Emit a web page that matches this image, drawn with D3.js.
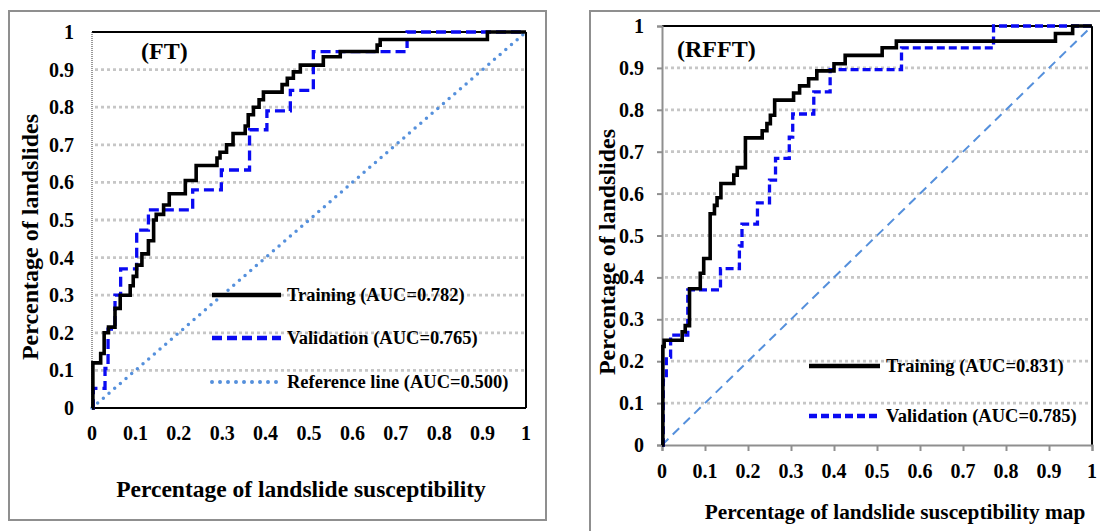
<!DOCTYPE html>
<html>
<head>
<meta charset="utf-8">
<script src="https://cdn.jsdelivr.net/npm/d3@7"></script>
<style>
  body { margin: 0; background: #fff; }
  text { font-family: "Liberation Serif", "Times New Roman", serif; font-weight: bold; fill: #000; }
</style>
</head>
<body>
<div id="chart"></div>
<script>
// ROC staircase points: [false positive rate, true positive rate]
const ftTraining = [
  [0, 0], [0.002, 0.12], [0.02, 0.145], [0.028, 0.2], [0.038, 0.215], [0.053, 0.265],
  [0.065, 0.3], [0.088, 0.325], [0.095, 0.35], [0.103, 0.38], [0.115, 0.41], [0.13, 0.445],
  [0.142, 0.5], [0.148, 0.515], [0.165, 0.54], [0.178, 0.57], [0.215, 0.605], [0.24, 0.645],
  [0.288, 0.665], [0.295, 0.68], [0.31, 0.7], [0.325, 0.73], [0.353, 0.75], [0.36, 0.78],
  [0.372, 0.8], [0.385, 0.82], [0.395, 0.84], [0.438, 0.86], [0.45, 0.877], [0.464, 0.894],
  [0.48, 0.912], [0.533, 0.934], [0.572, 0.948], [0.657, 0.965], [0.664, 0.98], [0.911, 1], [1, 1]
];
const ftValidation = [
  [0, 0], [0.003, 0.052], [0.03, 0.105], [0.037, 0.21], [0.053, 0.3], [0.066, 0.37],
  [0.103, 0.473], [0.13, 0.527], [0.232, 0.58], [0.298, 0.633], [0.363, 0.74], [0.403, 0.79],
  [0.457, 0.845], [0.51, 0.948], [0.726, 1], [1, 1]
];
const rfftTraining = [
  [0, 0], [0.002, 0.235], [0.005, 0.25], [0.047, 0.27], [0.054, 0.285], [0.064, 0.373],
  [0.089, 0.41], [0.097, 0.445], [0.112, 0.552], [0.122, 0.572], [0.128, 0.59], [0.137, 0.624],
  [0.167, 0.644], [0.175, 0.662], [0.194, 0.733], [0.233, 0.75], [0.244, 0.767], [0.252, 0.787],
  [0.262, 0.823], [0.306, 0.84], [0.32, 0.857], [0.341, 0.874], [0.36, 0.893], [0.4, 0.91],
  [0.426, 0.93], [0.512, 0.948], [0.545, 0.964], [0.915, 0.982], [0.955, 1], [1, 1]
];
const rfftValidation = [
  [0, 0], [0.003, 0.155], [0.01, 0.21], [0.02, 0.262], [0.06, 0.37], [0.136, 0.421],
  [0.18, 0.475], [0.186, 0.527], [0.222, 0.578], [0.25, 0.632], [0.264, 0.684], [0.296, 0.735],
  [0.304, 0.79], [0.353, 0.843], [0.391, 0.896], [0.557, 0.948], [0.771, 1], [1, 1]
];
const referenceLine = [[0, 0], [1, 1]];

const tickValues = [0, 0.1, 0.2, 0.3, 0.4, 0.5, 0.6, 0.7, 0.8, 0.9, 1];
const ftLegend = ["Training (AUC=0.782)", "Validation (AUC=0.765)", "Reference line (AUC=0.500)"];
const rfftLegend = ["Training (AUC=0.831)", "Validation (AUC=0.785)"];

const BLUE = "#0a0af2";
const REF_BLUE = "#5590dc";
const GRID = "#c6c6c6";
const fmt = d => (d === 0 || d === 1) ? String(d) : d3.format(".1f")(d);

const svg = d3.select("#chart").append("svg")
  .attr("width", 1100)
  .attr("height", 531);

svg.append("rect").attr("width", 1100).attr("height", 531).attr("fill", "#fff");

// panel frames
svg.append("rect")
  .attr("x", 9).attr("y", 11).attr("width", 537).attr("height", 509)
  .attr("fill", "none").attr("stroke", "#8f8f8f").attr("stroke-width", 2);
svg.append("rect")
  .attr("x", 590).attr("y", 11).attr("width", 560).attr("height", 560)
  .attr("fill", "none").attr("stroke", "#8f8f8f").attr("stroke-width", 2);

function drawPanel(p) {
  const x = d3.scaleLinear().domain([0, 1]).range([p.left, p.right]);
  const y = d3.scaleLinear().domain([0, 1]).range([p.bottom, p.top]);
  const g = svg.append("g");

  // dotted gridlines
  g.selectAll(".grid")
    .data(tickValues.filter(d => d > 0 && d < 1))
    .enter().append("line")
    .attr("x1", x(0) + 3).attr("x2", x(1) - 2)
    .attr("y1", d => y(d)).attr("y2", d => y(d))
    .attr("stroke", GRID).attr("stroke-width", 2.8)
    .attr("stroke-dasharray", "3,3");

  // plot frame
  g.append("line").attr("x1", x(0)).attr("x2", x(1)).attr("y1", y(1)).attr("y2", y(1))
    .attr("stroke", "#000").attr("stroke-width", 2);
  g.append("line").attr("x1", x(1)).attr("x2", x(1)).attr("y1", y(1)).attr("y2", y(0))
    .attr("stroke", "#000").attr("stroke-width", 2);

  if (p.grayAxes) {
    const xAxis = d3.axisBottom(x).tickValues(tickValues).tickSize(6).tickFormat("");
    const yAxis = d3.axisLeft(y).tickValues(tickValues).tickSize(5).tickFormat("");
    g.append("g").attr("transform", `translate(0,${y(0)})`).call(xAxis)
      .call(a => a.selectAll("line,path").attr("stroke", "#8f8f8f").attr("stroke-width", 2));
    g.append("g").attr("transform", `translate(${x(0)},0)`).call(yAxis)
      .call(a => a.selectAll("line,path").attr("stroke", "#8f8f8f").attr("stroke-width", 2));
  } else {
    g.append("line").attr("x1", x(0)).attr("x2", x(1)).attr("y1", y(0)).attr("y2", y(0))
      .attr("stroke", "#000").attr("stroke-width", 2);
    g.append("line").attr("x1", x(0)).attr("x2", x(0)).attr("y1", y(1)).attr("y2", y(0))
      .attr("stroke", "#333").attr("stroke-width", 1).attr("stroke-dasharray", "1,1");
  }

  // tick labels
  g.selectAll(".ylab").data(tickValues).enter().append("text")
    .attr("x", p.yLabelX).attr("y", d => y(d))
    .attr("dy", "0.35em").attr("text-anchor", "end")
    .style("font-size", "20px").text(fmt);
  g.selectAll(".xlab").data(tickValues).enter().append("text")
    .attr("x", d => x(d)).attr("y", p.xLabelY)
    .attr("dy", "0.35em").attr("text-anchor", "middle")
    .style("font-size", "20px").text(fmt);

  // reference diagonal
  const line = d3.line().x(d => x(d[0])).y(d => y(d[1]));
  g.append("path").datum(referenceLine).attr("d", line)
    .attr("fill", "none").attr("stroke", REF_BLUE)
    .attr("stroke-width", p.refWidth).attr("stroke-dasharray", p.refDash)
    .attr("stroke-linecap", p.refCap);

  // ROC curves
  const step = d3.line().x(d => x(d[0])).y(d => y(d[1])).curve(d3.curveStepAfter);
  g.append("path").datum(p.validation).attr("d", step)
    .attr("fill", "none").attr("stroke", BLUE).attr("stroke-width", 3.3)
    .attr("stroke-dasharray", p.valDash);
  g.append("path").datum(p.training).attr("d", step)
    .attr("fill", "none").attr("stroke", "#000").attr("stroke-width", 3.6);

  // legend
  const styles = [
    { stroke: "#000", width: 4.5, dash: null, cap: "butt" },
    { stroke: BLUE, width: 4.5, dash: p.valDash, cap: "butt" },
    { stroke: REF_BLUE, width: 4, dash: "0,8", cap: "round" }
  ];
  p.legend.forEach((label, i) => {
    const ly = p.legendY[i];
    const s = styles[i];
    g.append("line").attr("x1", p.legendX1).attr("x2", p.legendX2)
      .attr("y1", ly).attr("y2", ly)
      .attr("stroke", s.stroke).attr("stroke-width", s.width)
      .attr("stroke-dasharray", s.dash).attr("stroke-linecap", s.cap);
    g.append("text").attr("x", p.legendX2 + 6).attr("y", ly).attr("dy", "0.35em")
      .style("font-size", "18.5px").text(label);
  });

  // panel tag
  g.append("text").attr("x", p.tagX).attr("y", p.tagY).attr("dy", "0.35em")
    .style("font-size", "24px").text(p.tag);

  // axis titles
  g.append("text").attr("x", p.xTitleX).attr("y", p.xTitleY).attr("dy", "0.35em")
    .attr("text-anchor", "middle").style("font-size", p.xTitleSize).text(p.xTitle);
  g.append("text")
    .attr("transform", `translate(${p.yTitleX},${p.yTitleY}) rotate(-90)`)
    .attr("dy", "0.35em").attr("text-anchor", "middle")
    .style("font-size", "24px").text("Percentage of landslides");
}

drawPanel({
  left: 92, right: 526, top: 32, bottom: 408,
  grayAxes: false,
  yLabelX: 74, xLabelY: 433,
  training: ftTraining, validation: ftValidation,
  valDash: "10,5", refDash: "0,7.5", refWidth: 3.5, refCap: "round",
  legend: ftLegend, legendY: [295, 338, 382], legendX1: 212, legendX2: 281,
  tag: "(FT)", tagX: 141, tagY: 51,
  xTitle: "Percentage of landslide susceptibility", xTitleX: 301, xTitleY: 489, xTitleSize: "23.5px",
  yTitleX: 30, yTitleY: 237
});

drawPanel({
  left: 662, right: 1092, top: 26, bottom: 445,
  grayAxes: true,
  yLabelX: 644, xLabelY: 471,
  training: rfftTraining, validation: rfftValidation,
  valDash: "8,4", refDash: "9,6", refWidth: 2, refCap: "butt",
  legend: rfftLegend, legendY: [366, 416], legendX1: 809, legendX2: 880,
  tag: "(RFFT)", tagX: 677, tagY: 49,
  xTitle: "Percentage of landslide susceptibility map", xTitleX: 895, xTitleY: 512, xTitleSize: "21.3px",
  yTitleX: 607, yTitleY: 252
});
</script>
</body>
</html>
